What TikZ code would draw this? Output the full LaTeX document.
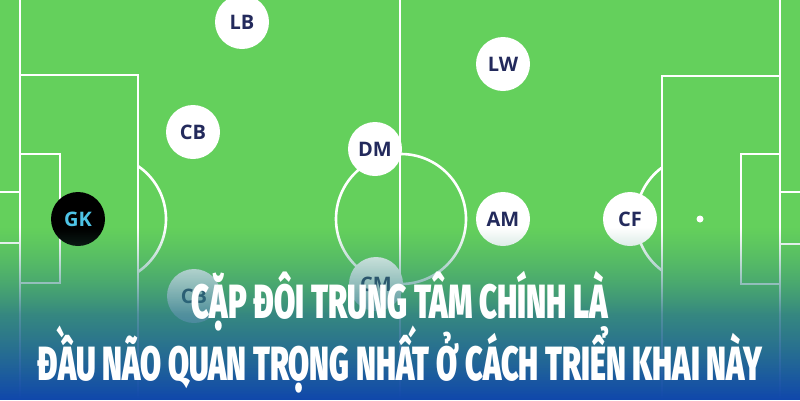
\documentclass[tikz,border=0pt]{standalone}
\usepackage{fontspec}
\usepackage{graphicx}
\usetikzlibrary{fadings}
\setmainfont{Open Sans}
\newif\ifheavyfound
\IfFontExistsTF{Fira Sans Black}{\newfontfamily\titlefont{Fira Sans Black}\heavyfoundtrue}{%
 \IfFontExistsTF{Fira Sans Heavy}{\newfontfamily\titlefont{Fira Sans Heavy}\heavyfoundtrue}{%
  \IfFontExistsTF{Lato Black}{\newfontfamily\titlefont{Lato Black}\heavyfoundtrue}{%
   \newfontfamily\titlefont{Fira Sans}}}}
\ifheavyfound
  \newcommand\titlestyle{\titlefont\fontsize{48}{48}\selectfont}
  \newcommand\heavytext[1]{#1}
\else
  \newcommand\titlestyle{\titlefont\bfseries\fontsize{48}{48}\selectfont}
  \newcommand\heavytext[1]{%
    \makebox[0pt][l]{#1}%
    \makebox[0pt][l]{\hspace{1.6pt}#1}%
    \makebox[0pt][l]{\hspace{3.2pt}#1}%
    \makebox[0pt][l]{\raisebox{1pt}{#1}}%
    \makebox[0pt][l]{\hspace{1.6pt}\raisebox{1pt}{#1}}%
    \hspace{3.2pt}\raisebox{1pt}{#1}}
\fi
\definecolor{pitch}{HTML}{64D05C}
\definecolor{navy}{HTML}{232A5C}
\definecolor{gkcyan}{HTML}{4EC3E6}
\definecolor{ovtop}{HTML}{3E9A74}
\definecolor{ovmid}{HTML}{2C7888}
\definecolor{ovbot}{HTML}{1047AC}
\tikzfading[name=upfade, top color=transparent!100, bottom color=transparent!0, middle color=transparent!18]
\begin{document}
\begin{tikzpicture}[x=1pt,y=-1pt,
  pline/.style={white, line width=2.6pt},
  player/.style={circle, fill=white, minimum size=54pt, inner sep=0pt,
    font=\bfseries\fontsize{20}{20}\selectfont, text=navy},
  keeper/.style={player, fill=black, text=gkcyan},
  titletext/.style={anchor=base, inner sep=0pt, text=white}]
\useasboundingbox (0,0) rectangle (800,400);
\clip (0,0) rectangle (800,400);
\fill[pitch] (0,0) rectangle (800,400);
% left half
\draw[pline] (20,-5) -- (20,405);
\draw[pline] (20,75) -- (138,75) -- (138,405);
\draw[pline] (20,154) -- (60,154) -- (60,283) -- (20,283);
\draw[pline] (-5,192) -- (20,192);
\draw[pline] (-5,243) -- (20,243);
\begin{scope}
  \clip (138,0) rectangle (300,400);
  \draw[pline] (102,219) circle[radius=64];
\end{scope}
% centre
\draw[pline] (400,-5) -- (400,405);
\draw[pline] (401,219) circle[radius=65];
% right half
\draw[pline] (780,-5) -- (780,405);
\draw[pline] (780,76) -- (662,76) -- (662,405);
\draw[pline] (780,154) -- (741,154) -- (741,284) -- (780,284);
\draw[pline] (805,192) -- (780,192);
\draw[pline] (805,244) -- (780,244);
\begin{scope}
  \clip (500,0) rectangle (662,400);
  \draw[pline] (700,219) circle[radius=64];
\end{scope}
\fill[white] (700,219) circle[radius=3.5];
% players
\node[player] (lb) at (242,22) {LB};
\node[player] (cb) at (193,132) {CB};
\node[player] (cb2) at (194,296) {CB};
\node[player] (dm) at (375,149) {DM};
\node[player] (cm) at (376,284) {CM};
\node[player] (lw) at (503,64) {LW};
\node[player] (am) at (503,219) {AM};
\node[player] (cf) at (630,219) {CF};
\node[keeper] (gk) at (78,219) {GK};
% overlay
\shade[top color=ovtop, bottom color=ovbot, middle color=ovmid, path fading=upfade]
  (-10,228) rectangle (810,400);
% title
\node[titletext] (t1) at (400,318) {\resizebox{417pt}{\height}{\titlestyle\heavytext{CẶP ĐÔI TRUNG TÂM CHÍNH LÀ}}};
\node[titletext] (t2) at (400,380) {\resizebox{724pt}{\height}{\titlestyle\heavytext{ĐẦU NÃO QUAN TRỌNG NHẤT Ở CÁCH TRIỂN KHAI NÀY}}};
\end{tikzpicture}
\end{document}
